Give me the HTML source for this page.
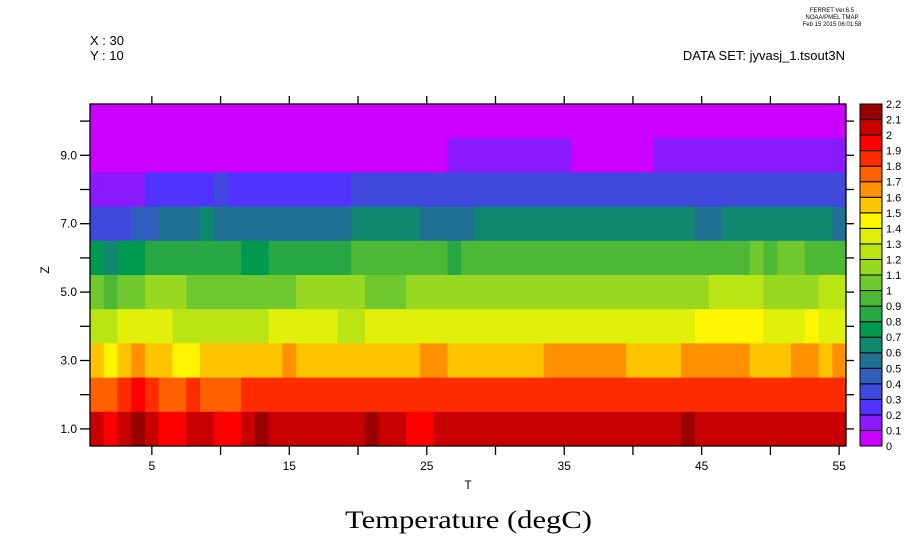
<!DOCTYPE html>
<html><head><meta charset="utf-8"><style>
html,body{margin:0;padding:0;background:#fff;width:921px;height:552px;overflow:hidden}
svg{display:block}
text{font-family:"Liberation Sans",sans-serif;fill:#000}
</style></head><body>
<svg id="s" width="921" height="552" xmlns="http://www.w3.org/2000/svg">
<g id="cells"></g>
<g id="cb"></g>
<rect x="90" y="104" width="756" height="342" fill="none" stroke="#000" stroke-width="1.3"/>
<g id="ticks" stroke="#000" stroke-width="1.3"></g>
<g id="labels" font-size="12"></g>
<text x="90" y="45" font-size="13">X : 30</text>
<text x="90" y="60" font-size="13">Y : 10</text>
<text x="845" y="60" font-size="13" text-anchor="end">DATA SET: jyvasj_1.tsout3N</text>
<text x="832" y="12" font-size="6" text-anchor="middle">FERRET  Ver.6.5</text>
<text x="832" y="19" font-size="6" text-anchor="middle">NOAA/PMEL TMAP</text>
<text x="832" y="26" font-size="6" text-anchor="middle">Feb 15 2015 06:01:58</text>
<text x="468" y="489" font-size="12" text-anchor="middle">T</text>
<text transform="translate(49,270) rotate(-90)" font-size="12" text-anchor="middle">Z</text>
<text x="345" y="528" font-size="25" textLength="247" lengthAdjust="spacingAndGlyphs" style="font-family:'Liberation Serif',serif">Temperature (degC)</text>
</svg>
<script>
var C=["#cc00ff","#8a1aff","#5033ff","#4048dd","#3060bb","#207094","#108870","#009950","#28a845","#4cb835","#70c830","#98d820","#bbe414","#e0f00a","#fff500","#ffc400","#ff9000","#ff6000","#ff2c00","#ff0000","#c80000","#990000"];
function R(segs){var a=[];segs.forEach(function(s){for(var i=0;i<s[0];i++)a.push(s[1]);});return a;}
var rows=[
R([[55,0]]),
R([[26,0],[9,1],[6,0],[14,1]]),
R([[4,1],[5,2],[1,3],[9,2],[36,3]]),
R([[3,3],[2,4],[3,5],[1,6],[10,5],[5,6],[4,5],[16,6],[2,5],[8,6],[1,5]]),
R([[1,7],[1,6],[2,7],[7,8],[2,7],[6,8],[7,9],[1,8],[21,9],[1,10],[1,9],[2,10],[3,9]]),
R([[1,10],[1,9],[2,10],[3,11],[8,10],[5,11],[3,10],[22,11],[4,12],[4,11],[2,12]]),
R([[2,12],[4,13],[7,12],[5,13],[2,12],[24,13],[5,14],[3,13],[1,14],[2,13]]),
R([[1,15],[1,14],[1,15],[1,16],[2,15],[2,14],[6,15],[1,16],[9,15],[2,16],[7,15],[6,16],[4,15],[5,16],[3,15],[2,16],[1,15],[1,16]]),
R([[2,17],[1,18],[1,19],[1,18],[2,17],[1,18],[3,17],[44,18]]),
R([[1,20],[1,19],[1,20],[1,21],[1,20],[2,19],[2,20],[2,19],[1,20],[1,21],[7,20],[1,21],[2,20],[2,19],[18,20],[1,21],[11,20]])
];
var ns="http://www.w3.org/2000/svg";
function el(p,n,a){var e=document.createElementNS(ns,n);for(var k in a)e.setAttribute(k,a[k]);document.getElementById(p).appendChild(e);return e;}
var cw=756/55,rh=342/10;
rows.forEach(function(r,j){
  var c=0;
  while(c<55){var s=c;while(c<55&&r[c]==r[s])c++;
    el("cells","rect",{x:(90+s*cw).toFixed(2),y:(104+j*rh).toFixed(2),width:((c-s)*cw+0.5).toFixed(2),height:(rh+0.5).toFixed(2),fill:C[r[s]]});}
});
var bh=342/22;
for(var i=0;i<22;i++){
  el("cb","rect",{x:860,y:(446-(i+1)*bh).toFixed(2),width:22,height:bh.toFixed(2),fill:C[i],stroke:"#000","stroke-width":1});
}
var lab=["0","0.1","0.2","0.3","0.4","0.5","0.6","0.7","0.8","0.9","1","1.1","1.2","1.3","1.4","1.5","1.6","1.7","1.8","1.9","2","2.1","2.2"];
for(var i=0;i<=22;i++){var t=el("labels","text",{x:886,y:(446-i*bh+4).toFixed(1),"font-size":"11"});t.textContent=lab[i];}
for(var T=5;T<=55;T+=5){var x=90+(T-0.5)*cw;
  el("ticks","line",{x1:x,y1:446,x2:x,y2:455});el("ticks","line",{x1:x,y1:104,x2:x,y2:96});
  if(T%10==5){var t=el("labels","text",{x:x,y:470,"text-anchor":"middle"});t.textContent=T;}}
for(var Z=1;Z<=10;Z++){var y=446-(Z-0.5)*rh;
  el("ticks","line",{x1:80,y1:y,x2:90,y2:y});el("ticks","line",{x1:846,y1:y,x2:854,y2:y});
  if(Z%2==1){var t=el("labels","text",{x:77,y:y+4,"text-anchor":"end"});t.textContent=Z+".0";}}
</script>
</body></html>
